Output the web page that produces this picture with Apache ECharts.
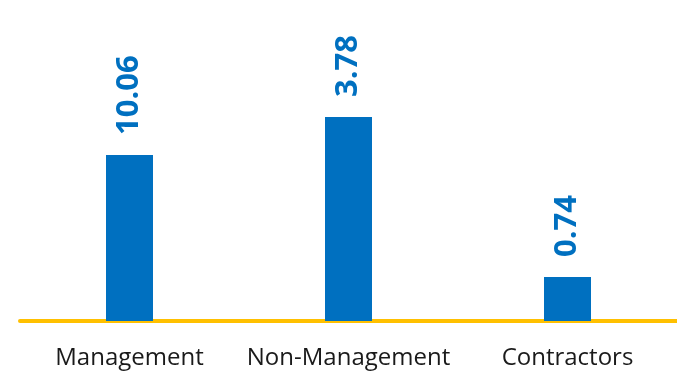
<!DOCTYPE html>
<html>
<head>
<meta charset="utf-8">
<script src="https://cdn.jsdelivr.net/npm/echarts@6/dist/echarts.min.js"></script>
<style>
html,body{margin:0;padding:0;background:#fff;}
#c{width:677px;height:374px;}
</style>
</head>
<body>
<div id="c"></div>
<script>
// Categories
const categories = ['Management', 'Non-Management', 'Contractors'];
// Bar heights as drawn in the picture (arbitrary units)
const barHeights = [166, 204, 44];
// Value labels shown above the bars
const valueLabels = ['10.06', '3.78', '0.74'];

const chart = echarts.init(document.getElementById('c'));
chart.setOption({
  animation: false,
  backgroundColor: '#ffffff',
  grid: { left: 20, right: 0, top: 1, bottom: 53, containLabel: false },
  xAxis: {
    type: 'category',
    data: categories,
    axisLine: { show: true, lineStyle: { color: '#FFC000', width: 4 } },
    axisTick: { show: false },
    axisLabel: {
      color: '#1a1a1a',
      fontFamily: 'Open Sans',
      fontSize: 24,
      margin: 25,
      interval: 0
    }
  },
  yAxis: {
    type: 'value',
    min: 0,
    max: 320,
    show: false,
    splitLine: { show: false }
  },
  series: [{
    type: 'bar',
    data: barHeights,
    barWidth: 47,
    itemStyle: { color: '#0070C0' },
    label: {
      show: true,
      position: 'top',
      rotate: 90,
      align: 'left',
      verticalAlign: 'middle',
      distance: 20,
      color: '#0070C0',
      fontFamily: 'Open Sans',
      fontWeight: 'bold',
      fontSize: 31,
      formatter: p => valueLabels[p.dataIndex]
    }
  }]
});
</script>
</body>
</html>
